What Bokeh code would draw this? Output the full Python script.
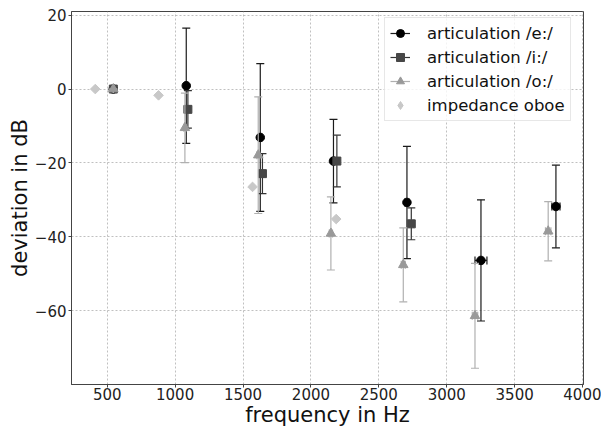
import numpy as np
from bokeh.plotting import figure
from bokeh.models import (ColumnDataSource, Range1d, FixedTicker, Legend,
                          LegendItem)
from bokeh.embed import file_html
from bokeh.resources import INLINE

# articulation /e:/  (frequency in Hz, deviation in dB, errors)
e_freq = [545, 1082, 1627, 2166, 2707, 3252, 3804]
e_dev = [0.0, 0.9, -13.1, -19.5, -30.7, -46.4, -31.8]
e_err = [0.0, 15.6, 20.0, 11.3, 15.2, 16.4, 11.2]
e_ferr = [0, 10, 10, 15, 15, 44, 30]

# articulation /i:/
i_freq = [545, 1094, 1643, 2191, 2739]
i_dev = [0.0, -5.5, -22.9, -19.5, -36.5]
i_err = [0.0, 5.1, 5.4, 7.0, 4.3]
i_ferr = [0, 8, 10, 12, 15]

# articulation /o:/
o_freq = [545, 1072, 1612, 2147, 2680, 3208, 3747]
o_dev = [0.0, -10.5, -17.9, -39.1, -47.6, -61.4, -38.5]
o_err = [0.0, 9.4, 15.8, 9.9, 10.0, 14.2, 8.0]
o_ferr = [0, 8, 10, 12, 15, 20, 20]

# impedance of the oboe
imp_freq = [412, 878, 1570, 2186]
imp_dev = [0.0, -1.7, -26.5, -35.2]

x_ticks = [500, 1000, 1500, 2000, 2500, 3000, 3500, 4000]
y_ticks = [-60, -40, -20, 0, 20]

FONT = "DejaVu Sans"

p = figure(width=601, height=430, output_backend="svg", toolbar_location=None,
           x_range=Range1d(237, 4007), y_range=Range1d(-80, 21),
           min_border_left=71, min_border_right=18, min_border_top=11,
           min_border_bottom=46)

p.background_fill_color = "white"
p.border_fill_color = "white"
p.outline_line_color = "#444444"
p.outline_line_width = 1

for ax in (p.xaxis, p.yaxis):
    ax.major_label_text_font = FONT
    ax.major_label_text_font_size = "15px"
    ax.major_label_text_color = "#222222"
    ax.axis_label_text_font = FONT
    ax.axis_label_text_font_size = "21px"
    ax.axis_label_text_font_style = "normal"
    ax.axis_label_text_color = "#111111"
    ax.axis_line_color = "#444444"
    ax.major_tick_line_color = "#444444"
    ax.major_tick_out = 3
    ax.major_tick_in = 0
    ax.minor_tick_line_color = None

p.xaxis.ticker = FixedTicker(ticks=x_ticks)
p.yaxis.ticker = FixedTicker(ticks=y_ticks)
p.yaxis.major_label_overrides = {t: (str(t).replace("-", "\u2212")) for t in y_ticks}
p.xaxis.axis_label = "frequency in Hz"
p.yaxis.axis_label = "deviation in dB"
p.xaxis.major_label_standoff = 0
p.yaxis.major_label_standoff = 2
p.xaxis.axis_label_standoff = 0
p.yaxis.axis_label_standoff = 0

p.grid.grid_line_color = "#b0b0b0"
p.grid.grid_line_dash = "2 2"
p.grid.grid_line_width = 0.8


def errorbar(freq, dev, err, ferr, color, bar_color, marker, size):
    x = np.array(freq, dtype=float)
    y = np.array(dev, dtype=float)
    dy = np.array(err, dtype=float)
    dx = np.array(ferr, dtype=float)
    src = ColumnDataSource(dict(x=x, y=y, lo=y - dy, hi=y + dy,
                                left=x - dx, right=x + dx))
    p.segment(x0="x", y0="lo", x1="x", y1="hi", source=src,
              line_color=bar_color, line_width=1.2)
    hbar = p.segment(x0="left", y0="y", x1="right", y1="y", source=src,
                     line_color=bar_color, line_width=1.2)
    for col in ("lo", "hi"):
        p.scatter(x="x", y=col, source=src, marker="dash", size=8,
                  line_color=bar_color, line_width=1.2)
    for col in ("left", "right"):
        p.scatter(x=col, y="y", source=src, marker="dash", size=8,
                  angle=np.pi / 2, line_color=bar_color, line_width=1.2)
    mk = p.scatter(x="x", y="y", source=src, marker=marker, size=size,
                   fill_color=color, line_color=color)
    return [hbar, mk]


r_e = errorbar(e_freq, e_dev, e_err, e_ferr, "#000000", "#1a1a1a", "circle", 8.5)
r_i = errorbar(i_freq, i_dev, i_err, i_ferr, "#474747", "#333333", "square", 8)
r_o = errorbar(o_freq, o_dev, o_err, o_ferr, "#999999", "#b0b0b0", "triangle", 9.5)

# impedance points: squares turned by 45 degrees; the zero-size diamond
# renderer on the same points only supplies the legend key
imp_src = ColumnDataSource(dict(x=imp_freq, y=imp_dev))
p.scatter(x="x", y="y", source=imp_src, marker="square", size=6.8,
          angle=np.pi / 4, fill_color="#c8c8c8", line_color="#c8c8c8")
imp_key = p.scatter(x="x", y="y", source=imp_src, marker="diamond", size=0,
                    fill_color="#c8c8c8", line_color="#c8c8c8")

legend = Legend(items=[
    LegendItem(label="articulation /e:/", renderers=r_e),
    LegendItem(label="articulation /i:/", renderers=r_i),
    LegendItem(label="articulation /o:/", renderers=r_o),
    LegendItem(label="impedance oboe", renderers=[imp_key]),
], location=(313, 263))
legend.margin = 0
legend.padding = 5
legend.spacing = 4
legend.glyph_width = 20
legend.glyph_height = 20
legend.label_height = 20
legend.label_standoff = 17
legend.label_text_font = FONT
legend.label_text_font_size = "16.5px"
legend.label_text_color = "#111111"
legend.border_line_color = "#d0d0d0"
legend.border_line_width = 1
legend.background_fill_color = "white"
legend.background_fill_alpha = 0.8
p.add_layout(legend, "center")

open("out.html", "w").write(file_html(p, INLINE))
